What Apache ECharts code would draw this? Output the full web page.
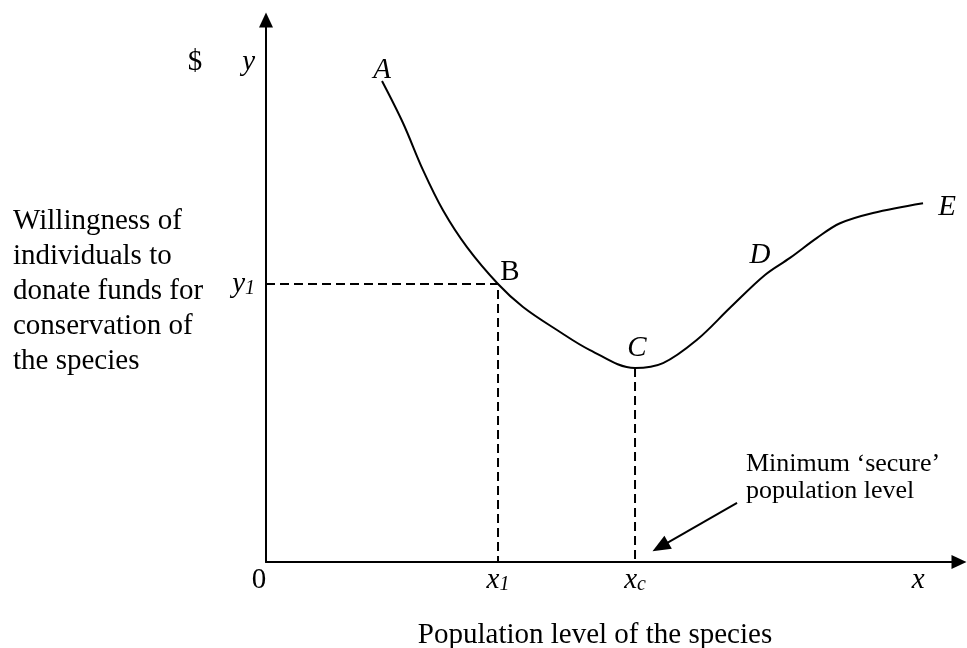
<!DOCTYPE html>
<html>
<head>
<meta charset="utf-8">
<script src="https://cdn.jsdelivr.net/npm/echarts@6/dist/echarts.min.js"></script>
<style>
  html, body { margin: 0; padding: 0; background: #fff; }
  #chart { width: 967px; height: 648px; }
</style>
</head>
<body>
<div id="chart"></div>
<script>
// curve A-B-C-D-E (axes run 0..100)
const curveX = [16.74, 19.77, 22.66, 25.54, 29.0, 33.48, 37.09, 41.99, 46.75, 53.25, 57.29, 62.19, 66.96, 72.0, 75.61, 79.51, 82.83, 87.59, 94.81];
const curveY = [88.75, 81.0, 72.3, 64.9, 58.1, 51.3, 47.05, 42.8, 39.1, 35.8, 36.7, 41.0, 46.9, 52.95, 56.1, 59.8, 62.5, 64.4, 66.2];

// which curve points carry a letter
const pointIndex = [0, 5, 9, 13, 18];
const pointNames = ["A", "B", "C", "D", "E"];
const pointItalic = [true, false, true, true, true];
const pointOffset = [[0, -11], [12, -12], [2, -20], [-5, -20], [24, 4]];

// tick labels
const xTickValues = [0, 33.48, 53.25, 94.1];
const xTickLabels = ["{n|0}", "{i|x}{s|1}", "{i|x}{s|c}", "{i|x}"];
const yTickValues = [51.3, 92.1];
const yTickLabels = ["{i|y}{s|1}", "{d|$}{g| }{i|y}"];

// annotation arrow (from text towards the axis)
const arrowFrom = [67.97, 10.89];
const arrowTo = [56.9, 2.8];

const B = pointIndex[1];
const C = pointIndex[2];

const serif = "Liberation Serif";
const rich = {
  n: { fontFamily: serif, fontSize: 29, color: "#000", padding: [0, 14, 0, 0] },
  i: { fontFamily: serif, fontSize: 29, fontStyle: "italic", color: "#000" },
  s: { fontFamily: serif, fontSize: 20, fontStyle: "italic", color: "#000", verticalAlign: "bottom", lineHeight: 16 },
  d: { fontFamily: serif, fontSize: 29, color: "#000" },
  g: { width: 40, fontSize: 29 },
};

function pick(values, labels) {
  return (v) => {
    const k = values.findIndex((t) => Math.abs(t - v) < 0.01);
    return k < 0 ? "" : labels[k];
  };
}

const chart = echarts.init(document.querySelector("#chart"));
chart.setOption({
  animation: false,
  backgroundColor: "#fff",
  textStyle: { fontFamily: serif },
  grid: { left: 266, right: 8, top: 20, bottom: 86, outerBoundsMode: "none", containLabel: false },
  xAxis: {
    type: "value",
    min: 0,
    max: 100,
    name: "Population level of the species",
    nameLocation: "middle",
    nameGap: 73,
    nameMoveOverlap: false,
    nameTextStyle: { fontSize: 29, color: "#000", verticalAlign: "middle", padding: [0, 35, 0, 0] },
    axisLine: {
      symbol: ["none", "triangle"],
      symbolSize: [14, 15],
      lineStyle: { color: "#000", width: 2 },
    },
    axisTick: { show: false },
    splitLine: { show: false },
    axisLabel: {
      customValues: xTickValues,
      formatter: pick(xTickValues, xTickLabels),
      rich,
      margin: 4,
    },
  },
  yAxis: {
    type: "value",
    min: 0,
    max: 100,
    name: "Willingness of\nindividuals to\ndonate funds for\nconservation of\nthe species",
    nameLocation: "middle",
    nameRotate: 0,
    nameGap: 253,
    nameMoveOverlap: false,
    nameTextStyle: { fontSize: 29, lineHeight: 35, color: "#000", align: "left", verticalAlign: "middle" },
    axisLine: {
      symbol: ["none", "triangle"],
      symbolSize: [14, 15],
      lineStyle: { color: "#000", width: 2 },
    },
    axisTick: { show: false },
    splitLine: { show: false },
    axisLabel: {
      customValues: yTickValues,
      formatter: pick(yTickValues, yTickLabels),
      rich,
      margin: 11,
    },
  },
  graphic: [
    {
      type: "text",
      left: 746,
      top: 451,
      style: {
        text: "Minimum \u2018secure\u2019\npopulation level",
        fontFamily: serif,
        fontSize: 26,
        lineHeight: 27,
        fill: "#000",
      },
    },
  ],
  series: [
    {
      type: "line",
      data: curveX.map((x, i) => [x, curveY[i]]),
      smooth: 0.35,
      showSymbol: false,
      symbol: "none",
      lineStyle: { color: "#000", width: 2 },
    },
    {
      type: "line",
      data: [[0, curveY[B]], [curveX[B], curveY[B]], [curveX[B], 0]],
      showSymbol: false,
      symbol: "none",
      lineStyle: { color: "#000", width: 2, type: [9, 5] },
    },
    {
      type: "line",
      data: [[curveX[C], curveY[C]], [curveX[C], 0]],
      showSymbol: false,
      symbol: "none",
      lineStyle: { color: "#000", width: 2, type: [9, 5] },
      markLine: {
        silent: true,
        symbol: ["none", "triangle"],
        symbolSize: [15, 18],
        label: { show: false },
        lineStyle: { color: "#000", width: 2, type: "solid" },
        data: [[{ coord: arrowFrom }, { coord: arrowTo }]],
      },
    },
    {
      type: "scatter",
      symbolSize: 0,
      silent: true,
      itemStyle: { opacity: 1 },
      data: pointIndex.map((k, j) => ({
        value: [curveX[k], curveY[k]],
        label: {
          show: true,
          position: "inside",
          offset: pointOffset[j],
          formatter: pointNames[j],
          fontFamily: serif,
          fontSize: 29,
          fontStyle: pointItalic[j] ? "italic" : "normal",
          color: "#000",
          opacity: 1,
          textBorderWidth: 0,
        },
      })),
    },
  ],
});
</script>
</body>
</html>
